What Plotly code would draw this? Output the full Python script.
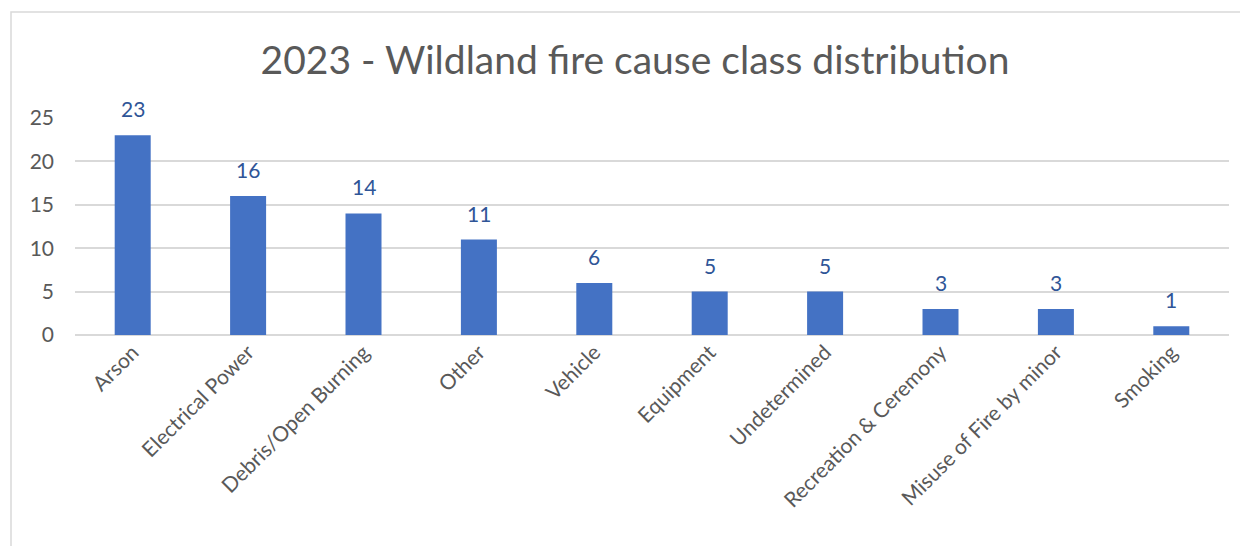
import plotly.graph_objects as go

categories = ["Arson", "Electrical Power", "Debris/Open Burning", "Other", "Vehicle",
              "Equipment", "Undetermined", "Recreation & Ceremony", "Misuse of Fire by minor", "Smoking"]
counts = [23, 16, 14, 11, 6, 5, 5, 3, 3, 1]
y_ticks = [0, 5, 10, 15, 20, 25]

FONT = "Lato"
OFF = 8  # page body margin
W, H = 1248 - OFF, 546 - OFF
L, R, T, B = 75 - OFF, 19, 118 - OFF, 211
pw, ph = W - L - R, H - T - B

fig = go.Figure(go.Bar(
    x=categories, y=counts,
    marker=dict(color="#4472C4", line=dict(width=0)),
    hoverinfo="x+y",
))

for c, v in zip(categories, counts):
    fig.add_annotation(x=c, y=v, text=str(v), showarrow=False, yanchor="bottom",
                       yshift=12, font=dict(family=FONT, size=21, color="#2F5597"))

fig.update_layout(
    width=W, height=H,
    margin=dict(l=L, r=R, t=T, b=B),
    paper_bgcolor="white", plot_bgcolor="white",
    bargap=0.688,
    showlegend=False,
    title=dict(text="2023 - Wildland fire cause class distribution",
               x=(635 - OFF) / W, xanchor="center", y=1 - (60 - OFF) / H, yanchor="middle",
               font=dict(family=FONT, size=39, color="#595959")),
    xaxis=dict(tickangle=-45, tickfont=dict(family=FONT, size=21, color="#595959"),
               showgrid=False, showline=False, ticks=""),
    yaxis=dict(range=[0, 25], tickvals=y_ticks, showgrid=True, gridcolor="#D9D9D9", gridwidth=1.5,
               zeroline=True, zerolinecolor="#D9D9D9", zerolinewidth=1.5,
               tickfont=dict(family=FONT, size=21, color="#595959"), ticklabelstandoff=20,
               showline=False, ticks=""),
    shapes=[dict(type="rect", xref="paper", yref="paper",
                 x0=(11 - 75) / pw, x1=(1300 - 75) / pw,
                 y0=-(600 - 335) / ph, y1=1 + (118 - 12) / ph,
                 line=dict(color="#D9D9D9", width=1.5), fillcolor="rgba(0,0,0,0)", layer="below")],
)

fig.write_html("out.html")
